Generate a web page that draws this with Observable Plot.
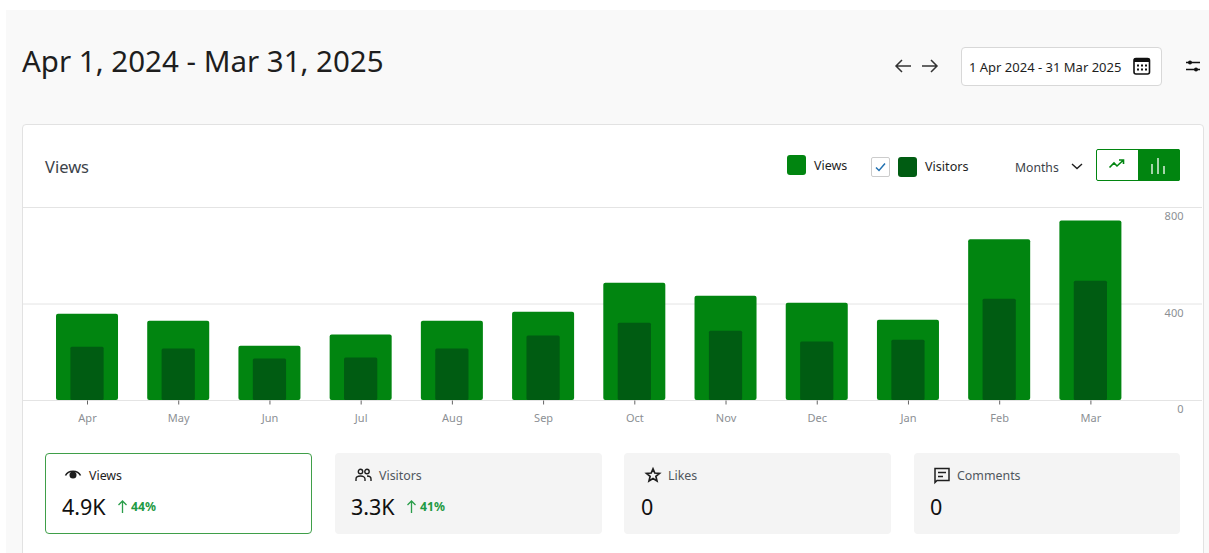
<!DOCTYPE html>
<html><head><meta charset="utf-8">
<script src="https://cdn.jsdelivr.net/npm/d3@7"></script>
<script src="https://cdn.jsdelivr.net/npm/@observablehq/plot@0.6"></script>
<style>
html,body{margin:0;padding:0;width:1209px;height:553px;overflow:hidden;background:#fff;font-family:"Noto Sans","Open Sans",sans-serif;color:#1e1e1e}
.abs{position:absolute;white-space:nowrap}
.t{position:absolute;white-space:nowrap;transform:translateY(-50%);line-height:1.2}
.ic{position:absolute;overflow:visible}
#chart{position:absolute;left:23px;top:195px}
#chart svg{display:block;overflow:visible}
</style></head><body>
<div class="abs" style="left:6px;top:10px;width:1203px;height:543px;background:#f9f9f9"></div>
<div class="abs" style="left:22px;top:124px;width:1180px;height:440px;background:#fff;border:1px solid #e2e2e2;border-radius:4px"></div>
<div id="chrome"></div>
<div id="chart"></div>
<script>
const months = ["Apr","May","Jun","Jul","Aug","Sep","Oct","Nov","Dec","Jan","Feb","Mar"];
const views = [358,329,225,272,329,366,486,432,403,333,666,744];
const visitors = [221,213,172,176,213,267,320,287,242,250,420,494];
const yTicks = [0,400,800];
const metricNames = ["Views","Visitors","Likes","Comments"];
const metricValues = ["4.9K","3.3K","0","0"];
const metricChanges = ["44%","41%",null,null];
const viewsColor = "#018510", visitorsColor = "#005c12";

const rows = months.map((m,i)=>({month:m,views:views[i],visitors:visitors[i]}));
const plot = Plot.plot({
  width:1179,height:240,marginLeft:0,marginRight:0,marginTop:12,marginBottom:34.5,
  style:{fontFamily:'"Noto Sans","Open Sans",sans-serif',fontSize:"11px",background:"transparent",overflow:"visible"},
  x:{type:"band",domain:months,range:[18.4,1113],padding:0,round:false,label:null},
  y:{domain:[0,800],range:[205,12],label:null},
  marks:[
    Plot.ruleY(yTicks,{stroke:"#e4e4e4",strokeWidth:1}),
    Plot.barY(rows,{x:"month",y:"views",fill:viewsColor,insetLeft:14.6,insetRight:14.6,rx:2}),
    Plot.barY(rows,{x:"month",y:"visitors",fill:visitorsColor,insetLeft:29,insetRight:29,rx:1.5}),
    Plot.axisX({tickSize:4,tickPadding:9,stroke:"#666",fill:"#8c8f94",label:null}),
    Plot.axisY({anchor:"right",ticks:yTicks,tickSize:0,tickPadding:0,textAnchor:"end",dx:-19,dy:9,fill:"#8c8f94",label:null,tickFormat:d=>String(d)})
  ]
});
document.getElementById("chart").appendChild(plot);

const chrome = document.getElementById("chrome");
function t(x,y,s,size,color,extra=""){chrome.insertAdjacentHTML("beforeend",`<div class="t" style="left:${x}px;top:${y}px;font-size:${size}px;color:${color};${extra}">${s}</div>`)}
function box(x,y,w,h,style){chrome.insertAdjacentHTML("beforeend",`<div class="abs" style="left:${x}px;top:${y}px;width:${w}px;height:${h}px;box-sizing:border-box;${style}"></div>`)}
function ic(x,y,w,h,body,vb){chrome.insertAdjacentHTML("beforeend",`<svg class="ic" style="left:${x}px;top:${y}px" width="${w}" height="${h}" viewBox="${vb||`0 0 ${w} ${h}`}">${body}</svg>`)}

t(22,60.5,"Apr 1, 2024 - Mar 31, 2025",29.5,"#1e1e1e");
ic(894,58,18,16,'<path d="M17 8H2M8 2 2 8l6 6" fill="none" stroke="#333" stroke-width="1.5"/>');
ic(921,58,18,16,'<path d="M1 8h15M10 2l6 6-6 6" fill="none" stroke="#333" stroke-width="1.5"/>');
box(961,47,201,39,"background:#fff;border:1px solid #d8d8d8;border-radius:4px");
t(969,67.5,"1 Apr 2024 - 31 Mar 2025",13,"#1e1e1e");
ic(1133,57,18,18,'<rect x="1" y="1.5" width="15.5" height="15.5" rx="2" fill="none" stroke="#111" stroke-width="1.6"/><rect x="1" y="1.5" width="15.5" height="3.5" fill="#111"/><g fill="#111"><rect x="4" y="7.5" width="2" height="2"/><rect x="8" y="7.5" width="2" height="2"/><rect x="12" y="7.5" width="2" height="2"/><rect x="4" y="11.5" width="2" height="2"/><rect x="8" y="11.5" width="2" height="2"/><rect x="12" y="11.5" width="2" height="2"/></g>');
ic(1185,58,16,16,'<path d="M1 4.500h14M1 11.500h14" stroke="#111" stroke-width="1.4"/><circle cx="5" cy="4.500" r="2" fill="#111"/><circle cx="11" cy="11.500" r="2" fill="#111"/>');

t(45,167,"Views",16.5,"#3c434a");
box(787,155,19,20,`background:${viewsColor};border-radius:3px`);
t(814,165,metricNames[0],12.5,"#1e1e1e");
box(871,157,19,20,"background:#fff;border:1px solid #ccc;border-radius:2px");
ic(871,157,19,20,'<path d="M5 10.500l3 3 6-7" fill="none" stroke="#2271b1" stroke-width="1.5"/>');
box(898,157,19,20,`background:${visitorsColor};border-radius:3px`);
t(925,166.5,metricNames[1],12.6,"#1e1e1e");
t(1015,167.5,"Months",12.2,"#3c434a");
ic(1070,162,14,10,'<path d="M2 2l5 4.500 5-4.500" fill="none" stroke="#1e1e1e" stroke-width="1.4"/>');
box(1096,149,84,32,`background:#fff;border:1px solid ${viewsColor};border-radius:2px`);
box(1138,149,42,32,`background:${viewsColor};border-radius:0 2px 2px 0`);
ic(1108,158,18,12,`<path d="M1.500 9.500 6 5l3 3 6-5.500M11 2h4.500v4" fill="none" stroke="${viewsColor}" stroke-width="1.6"/>`);
ic(1150,157,18,18,'<path d="M2 7v10M8 1v16M14 9v8" stroke="#cfe8d1" stroke-width="1.6"/>');

const cardX=[45,335,624,914], cardW=[267,267,267,266];
const labelX=[89,379,668,957], valueX=[62,351,641,930];
cardX.forEach((x,i)=>{
  box(x,453,cardW[i],81, i===0?`background:#fff;border:1px solid #3f9f49;border-radius:4px`:"background:#f4f4f4;border-radius:4px");
  t(labelX[i],475.5,metricNames[i],12.4,i===0?"#1e1e1e":"#50575e");
  t(valueX[i],506.5,metricValues[i],21.5,"#101010");
  if(metricChanges[i]){
    const ax=x+(i===0?72:71);
    ic(ax,499,11,15,'<path d="M5.500 14V2M1.500 6l4-4 4 4" fill="none" stroke="#2a9d4a" stroke-width="1.3"/>');
    t(ax+14,506.5,metricChanges[i],12.2,"#1f9a43","font-weight:700");
  }
});
ic(65,468,16,14,'<path d="M0.500 7.500C3 1.800 13 1.800 15.500 7.500" fill="none" stroke="#1e1e1e" stroke-width="1.6"/><circle cx="8" cy="7" r="3.500" fill="#1e1e1e"/>');
ic(355,468,17,14,'<g fill="none" stroke="#1e1e1e" stroke-width="1.4"><circle cx="5.500" cy="3.500" r="2.200"/><circle cx="12" cy="3.500" r="2.200"/><path d="M1 13v-2c0-2 2-3 4.500-3S10 9 10 11v2M12 8c2.500 0 4 1 4 3v2"/></g>');
ic(645,467,16,16,'<path d="M8 1.800 9.800 6l4.700.4-3.600 3 1.100 4.600L8 11.600 4 14l1.100-4.600-3.600-3L6.200 6Z" fill="none" stroke="#1e1e1e" stroke-width="1.7"/>');
ic(934,467,16,18,'<path d="M1 15.500V1.500h14v12H3ZM4 5.500h8M4 9.500h5" fill="none" stroke="#1e1e1e" stroke-width="1.5"/>');
</script>
</body></html>
